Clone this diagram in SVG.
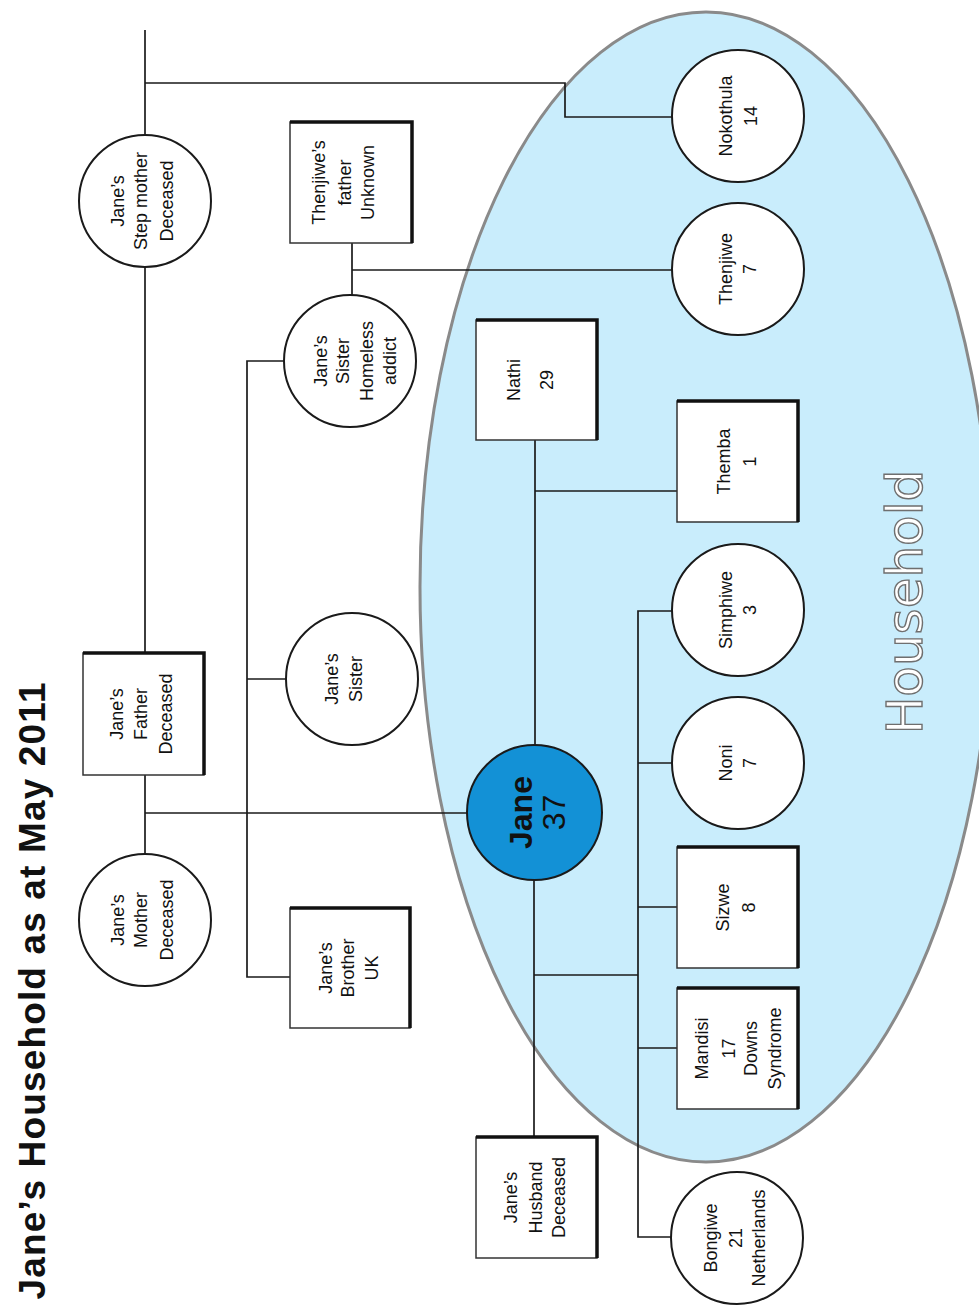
<svg xmlns="http://www.w3.org/2000/svg" width="979" height="1310" viewBox="0 0 979 1310">
  <defs>
    <style>
      .bg { fill: #ffffff; }
      .household { fill: #c9edfc; stroke: #8a8a8a; stroke-width: 3; }
      .household-label { font-family: "DejaVu Sans", sans-serif; font-size: 50px; fill: #ffffff; stroke: #6f6f6f; stroke-width: 1.4; text-anchor: middle; }
      .title { font-family: "Liberation Sans", Arial, sans-serif; font-size: 37px; font-weight: bold; fill: #111111; text-anchor: middle; }
      .conn { fill: none; stroke: #1a1a1a; stroke-width: 1.7; }
      .person { fill: #ffffff; stroke: #1a1a1a; stroke-width: 2; }
      .box { fill: #ffffff; stroke: #333333; stroke-width: 1.5; }
      .shadow { fill: none; stroke: #111111; stroke-width: 3.5; }
      .jane { fill: #1391d6; stroke: #1a1a1a; stroke-width: 2; }
      .lbl { font-family: "Liberation Sans", Arial, sans-serif; font-size: 18px; fill: #111111; text-anchor: middle; }
      .jane-name { font-family: "Liberation Sans", Arial, sans-serif; font-size: 32px; font-weight: bold; fill: #111111; text-anchor: middle; }
      .jane-age { font-family: "Liberation Sans", Arial, sans-serif; font-size: 32px; fill: #111111; text-anchor: middle; }
    </style>
  </defs>

  <rect class="bg" x="0" y="0" width="979" height="1310"/>

  <!-- household boundary -->
  <g id="household">
    <ellipse class="household" cx="706" cy="587" rx="286" ry="575"/>
    <text class="household-label" transform="translate(922,602) rotate(-90)" x="0" y="0">Household</text>
  </g>

  <!-- title -->
  <text class="title" transform="translate(45,991) rotate(-90)" x="0" y="0" textLength="617" lengthAdjust="spacing">Jane’s Household as at May 2011</text>

  <!-- family connectors -->
  <g id="connectors">
    <path class="conn" d="M145,30 V135"/>
    <path class="conn" d="M145,83 H565 V117 H672"/>
    <path class="conn" d="M145,267 V653"/>
    <path class="conn" d="M145,775 V854"/>
    <path class="conn" d="M145,813 H467"/>
    <path class="conn" d="M284,361 H247 V977 H290"/>
    <path class="conn" d="M247,679 H286"/>
    <path class="conn" d="M352,243 V295"/>
    <path class="conn" d="M352,270 H672"/>
    <path class="conn" d="M535,440 V745"/>
    <path class="conn" d="M535,491 H677"/>
    <path class="conn" d="M534,880 V1137"/>
    <path class="conn" d="M534,975 H638"/>
    <path class="conn" d="M672,611 H638 V1237 H671"/>
    <path class="conn" d="M638,763 H672"/>
    <path class="conn" d="M638,907 H677"/>
    <path class="conn" d="M638,1048 H677"/>
  </g>

  <!-- people -->
  <g id="step-mother">
    <circle class="person" cx="145" cy="201" r="66"/>
    <text class="lbl" transform="translate(145,201) rotate(-90)"><tspan x="0" y="-21.5">Jane’s</tspan><tspan x="0" y="1.5">Step mother</tspan><tspan x="0" y="27.5">Deceased</tspan></text>
  </g>

  <g id="father">
    <rect class="box" x="83" y="653" width="121" height="122"/>
    <path class="shadow" d="M83,653 H204 V775"/>
    <text class="lbl" transform="translate(143.5,714) rotate(-90)"><tspan x="0" y="-20.5">Jane’s</tspan><tspan x="0" y="3">Father</tspan><tspan x="0" y="28">Deceased</tspan></text>
  </g>

  <g id="mother">
    <circle class="person" cx="145" cy="920" r="66"/>
    <text class="lbl" transform="translate(145,920) rotate(-90)"><tspan x="0" y="-21.5">Jane’s</tspan><tspan x="0" y="1.5">Mother</tspan><tspan x="0" y="27.5">Deceased</tspan></text>
  </g>

  <g id="thenjiwe-father">
    <rect class="box" x="290" y="122" width="122" height="121"/>
    <path class="shadow" d="M290,122 H412 V243"/>
    <text class="lbl" transform="translate(351,182.5) rotate(-90)"><tspan x="0" y="-26">Thenjiwe’s</tspan><tspan x="0" y="0">father</tspan><tspan x="0" y="23">Unknown</tspan></text>
  </g>

  <g id="sister-homeless">
    <circle class="person" cx="350" cy="361" r="66"/>
    <text class="lbl" transform="translate(350,361) rotate(-90)"><tspan x="0" y="-23.5">Jane’s</tspan><tspan x="0" y="-1.5">Sister</tspan><tspan x="0" y="22.5">Homeless</tspan><tspan x="0" y="45.5">addict</tspan></text>
  </g>

  <g id="sister">
    <circle class="person" cx="352" cy="679" r="66"/>
    <text class="lbl" transform="translate(352,679) rotate(-90)"><tspan x="0" y="-14">Jane’s</tspan><tspan x="0" y="10">Sister</tspan></text>
  </g>

  <g id="brother">
    <rect class="box" x="290" y="908" width="120" height="120"/>
    <path class="shadow" d="M290,908 H410 V1028"/>
    <text class="lbl" transform="translate(350,968) rotate(-90)"><tspan x="0" y="-18">Jane’s</tspan><tspan x="0" y="4">Brother</tspan><tspan x="0" y="28">UK</tspan></text>
  </g>

  <g id="nathi">
    <rect class="box" x="476" y="320" width="121" height="120"/>
    <path class="shadow" d="M476,320 H597 V440"/>
    <text class="lbl" transform="translate(536.5,380) rotate(-90)"><tspan x="0" y="-16.5">Nathi</tspan><tspan x="0" y="16.5">29</tspan></text>
  </g>

  <g id="jane">
    <circle class="jane" cx="534.5" cy="812.5" r="67.5"/>
    <text transform="translate(534.5,812.5) rotate(-90)"><tspan class="jane-name" x="0" y="-2.5">Jane</tspan><tspan class="jane-age" x="0" y="30.5">37</tspan></text>
  </g>

  <g id="husband">
    <rect class="box" x="476" y="1137" width="121" height="121"/>
    <path class="shadow" d="M476,1137 H597 V1258"/>
    <text class="lbl" transform="translate(536.5,1197.5) rotate(-90)"><tspan x="0" y="-19.5">Jane’s</tspan><tspan x="0" y="5">Husband</tspan><tspan x="0" y="28.5">Deceased</tspan></text>
  </g>

  <g id="nokothula">
    <circle class="person" cx="738" cy="116" r="66"/>
    <text class="lbl" transform="translate(738,116) rotate(-90)"><tspan x="0" y="-6.5">Nokothula</tspan><tspan x="0" y="19">14</tspan></text>
  </g>

  <g id="thenjiwe">
    <circle class="person" cx="738" cy="269" r="66"/>
    <text class="lbl" transform="translate(738,269) rotate(-90)"><tspan x="0" y="-6.5">Thenjiwe</tspan><tspan x="0" y="18">7</tspan></text>
  </g>

  <g id="themba">
    <rect class="box" x="677" y="401" width="121" height="121"/>
    <path class="shadow" d="M677,401 H798 V522"/>
    <text class="lbl" transform="translate(737.5,461.5) rotate(-90)"><tspan x="0" y="-7.5">Themba</tspan><tspan x="0" y="18.5">1</tspan></text>
  </g>

  <g id="simphiwe">
    <circle class="person" cx="738" cy="610" r="66"/>
    <text class="lbl" transform="translate(738,610) rotate(-90)"><tspan x="0" y="-6.5">Simphiwe</tspan><tspan x="0" y="18">3</tspan></text>
  </g>

  <g id="noni">
    <circle class="person" cx="738" cy="763" r="66"/>
    <text class="lbl" transform="translate(738,763) rotate(-90)"><tspan x="0" y="-6.5">Noni</tspan><tspan x="0" y="18">7</tspan></text>
  </g>

  <g id="sizwe">
    <rect class="box" x="677" y="847" width="121" height="121"/>
    <path class="shadow" d="M677,847 H798 V968"/>
    <text class="lbl" transform="translate(737.5,907.5) rotate(-90)"><tspan x="0" y="-9">Sizwe</tspan><tspan x="0" y="17.5">8</tspan></text>
  </g>

  <g id="mandisi">
    <rect class="box" x="677" y="988" width="121" height="121"/>
    <path class="shadow" d="M677,988 H798 V1109"/>
    <text class="lbl" transform="translate(737.5,1048.5) rotate(-90)"><tspan x="0" y="-29.5">Mandisi</tspan><tspan x="0" y="-3">17</tspan><tspan x="0" y="19">Downs</tspan><tspan x="0" y="43">Syndrome</tspan></text>
  </g>

  <g id="bongiwe">
    <circle class="person" cx="737" cy="1238" r="66"/>
    <text class="lbl" transform="translate(737,1238) rotate(-90)"><tspan x="0" y="-20.5">Bongiwe</tspan><tspan x="0" y="4.5">21</tspan><tspan x="0" y="28">Netherlands</tspan></text>
  </g>
</svg>
